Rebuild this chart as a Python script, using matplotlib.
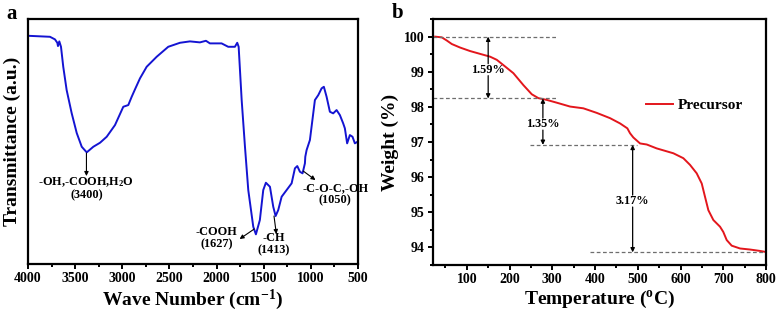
import matplotlib

matplotlib.use("Agg")
import matplotlib.pyplot as plt
import numpy as np

plt.rcParams["font.family"] = ["Liberation Serif", "DejaVu Serif"]
plt.rcParams["font.weight"] = "bold"
plt.rcParams["axes.labelweight"] = "bold"
plt.rcParams["mathtext.fontset"] = "custom"
plt.rcParams["mathtext.rm"] = "Liberation Serif:bold"
plt.rcParams["mathtext.bf"] = "Liberation Serif:bold"
plt.rcParams["mathtext.it"] = "Liberation Serif:bold"

# --- panel a: FTIR spectrum (transmittance in arbitrary units) ---
wavenumber = [4000, 3767, 3714, 3689, 3682, 3668, 3650, 3626, 3590, 3537, 3483, 3430,
              3377, 3307, 3236, 3165, 3077, 2989, 2936, 2900, 2865, 2812, 2741, 2635,
              2512, 2388, 2282, 2176, 2112, 2070, 1946, 1876, 1805, 1780, 1765, 1733,
              1698, 1663, 1610, 1582, 1540, 1504, 1476, 1433, 1398, 1373, 1345, 1309,
              1256, 1203, 1168, 1143, 1115, 1087, 1062, 1058, 1044, 1009, 956, 920, 885,
              861, 832, 797, 762, 726, 691, 656, 638, 614, 585, 557, 532, 504]
transmittance = [228.3, 227.3, 224.7, 221.3, 218.0, 222.7, 217.3, 197.3, 174.0, 151.0,
                 131.0, 117.3, 111.7, 117.3, 121.3, 127.3, 139.0, 157.3, 159.0, 167.3,
                 174.7, 185.7, 197.3, 207.3, 217.3, 221.3, 222.7, 221.7, 223.3, 220.7,
                 220.7, 217.3, 217.3, 221.3, 217.3, 164.0, 117.3, 74.0, 37.3, 29.7, 44.0,
                 74.0, 81.3, 77.3, 57.3, 48.0, 54.0, 67.3, 74.0, 80.7, 95.7, 98.0, 92.3,
                 90.7, 100.7, 107.3, 114.0, 124.0, 164.0, 169.0, 175.7, 177.3, 167.3,
                 152.3, 150.7, 154.0, 149.0, 140.7, 135.7, 120.7, 129.0, 127.3, 120.7, 122.3]
ir_labels = ["-OH,-COOH,H$_2$O\n(3400)", "-COOH\n(1627)", "-CH\n(1413)", "-C-O-C,-OH\n(1050)"]
ir_label_xy = [(3380, 76), (2000, 26), (1390, 20), (740, 70)]
ir_arrow_from = [(3380, 111), (1600, 35), (1390, 48), (1080, 93)]
ir_arrow_to = [(3380, 88), (1755, 25), (1365, 30), (950, 84)]

# --- panel b: TGA curve ---
temperature = [26, 41.5, 53.2, 64.9, 84.3, 107.7, 131, 154.5, 170.2, 185.6, 209, 232.4,
               252, 267.4, 287, 310.5, 341.6, 372.7, 404, 435.1, 458.5, 475.6, 481.9,
               489.6, 505.3, 521, 544, 583.3, 606.6, 622.2, 637.8, 649.6, 657.3, 665.1,
               676.8, 692.4, 700.1, 708, 719.7, 739.2, 762.6, 786, 800]
weight = [100.0, 99.98, 99.89, 99.79, 99.69, 99.59, 99.51, 99.43, 99.34, 99.19, 98.96,
          98.62, 98.36, 98.25, 98.2, 98.12, 98.01, 97.96, 97.83, 97.68, 97.53, 97.39,
          97.25, 97.13, 96.96, 96.93, 96.82, 96.68, 96.54, 96.35, 96.11, 95.82, 95.44,
          95.06, 94.78, 94.59, 94.44, 94.21, 94.05, 93.97, 93.94, 93.9, 93.87]
step_levels = [100.0, 98.24, 96.92, 93.86]
step_spans = [(22, 310), (22, 308), (248, 497), (388, 800)]
step_x = [150, 278, 488]
step_text = ["1.59%", "1.35%", "3.17%"]
step_text_y = [99.06, 97.51, 95.32]

fig = plt.figure(figsize=(7.78, 3.13), dpi=100)
ax1 = fig.add_axes([0.036, 0.1565, 0.424, 0.7825])
ax2 = fig.add_axes([0.5566, 0.1534, 0.428, 0.7856])

for ax in (ax1, ax2):
    for s in ax.spines.values():
        s.set_linewidth(1.6)
    ax.tick_params(which="both", direction="out", width=1.4, labelsize=10,
                   top=False, right=False, pad=2.5)
    ax.tick_params(which="major", length=3.5)
    ax.tick_params(which="minor", length=2.2)

ax1.plot(wavenumber, transmittance, color="#1414d2", lw=1.4)
ax1.set_xlim(4000, 500)
ax1.set_ylim(0, 245)
ax1.set_xticks(np.arange(4000, 499, -500))
ax1.set_xticks(np.arange(3750, 500, -500), minor=True)
ax1.set_yticks([])
ax1.set_xlabel("Wave Number (cm$^{-1}$)", fontsize=14, labelpad=2)
ax1.set_ylabel("Transmittance (a.u.)", fontsize=14, labelpad=5)
for lab, xy, a0, a1 in zip(ir_labels, ir_label_xy, ir_arrow_from, ir_arrow_to):
    ax1.text(xy[0], xy[1], lab, ha="center", va="center", fontsize=8.8,
             linespacing=1.0)
    ax1.annotate("", xy=a1, xytext=a0,
                 arrowprops=dict(arrowstyle="-|>", color="black", lw=0.8,
                                 mutation_scale=6, shrinkA=0, shrinkB=0))

ax2.plot(temperature, weight, color="#e3161c", lw=1.4, label="Precursor")
ax2.set_xlim(21, 800)
ax2.set_ylim(93.5, 100.5)
ax2.set_xticks(np.arange(100, 801, 100))
ax2.set_xticks(np.arange(50, 801, 100), minor=True)
ax2.set_yticks(np.arange(94, 101, 1))
ax2.set_yticks(np.arange(93.5, 100.6, 1), minor=True)
ax2.set_xlabel("Temperature ($^{o}$C)", fontsize=14, labelpad=2)
ax2.set_ylabel("Weight (%)", fontsize=14, labelpad=4)
for lvl, (x0, x1) in zip(step_levels, step_spans):
    ax2.plot([x0, x1], [lvl, lvl], ls=(0, (3, 2)), color="#6e6e6e", lw=0.9)
for i, (xs, txt, ty) in enumerate(zip(step_x, step_text, step_text_y)):
    top, bot = step_levels[i], step_levels[i + 1]
    ax2.text(xs, ty, txt, ha="center", va="center", fontsize=8.8)
    gap = 0.17
    ax2.annotate("", xy=(xs, top), xytext=(xs, ty + gap),
                 arrowprops=dict(arrowstyle="-|>", color="black", lw=0.9,
                                 mutation_scale=6, shrinkA=0, shrinkB=0))
    ax2.annotate("", xy=(xs, bot), xytext=(xs, ty - gap),
                 arrowprops=dict(arrowstyle="-|>", color="black", lw=0.9,
                                 mutation_scale=6, shrinkA=0, shrinkB=0))
ax2.legend(loc="center right", bbox_to_anchor=(0.973, 0.65), frameon=False,
           fontsize=11, handlelength=1.8, handletextpad=0.3)

fig.text(0.008, 0.955, "a", fontsize=15, fontweight="bold", va="center")
fig.text(0.503, 0.958, "b", fontsize=15, fontweight="bold", va="center")

fig.savefig("out.png", dpi=100)
